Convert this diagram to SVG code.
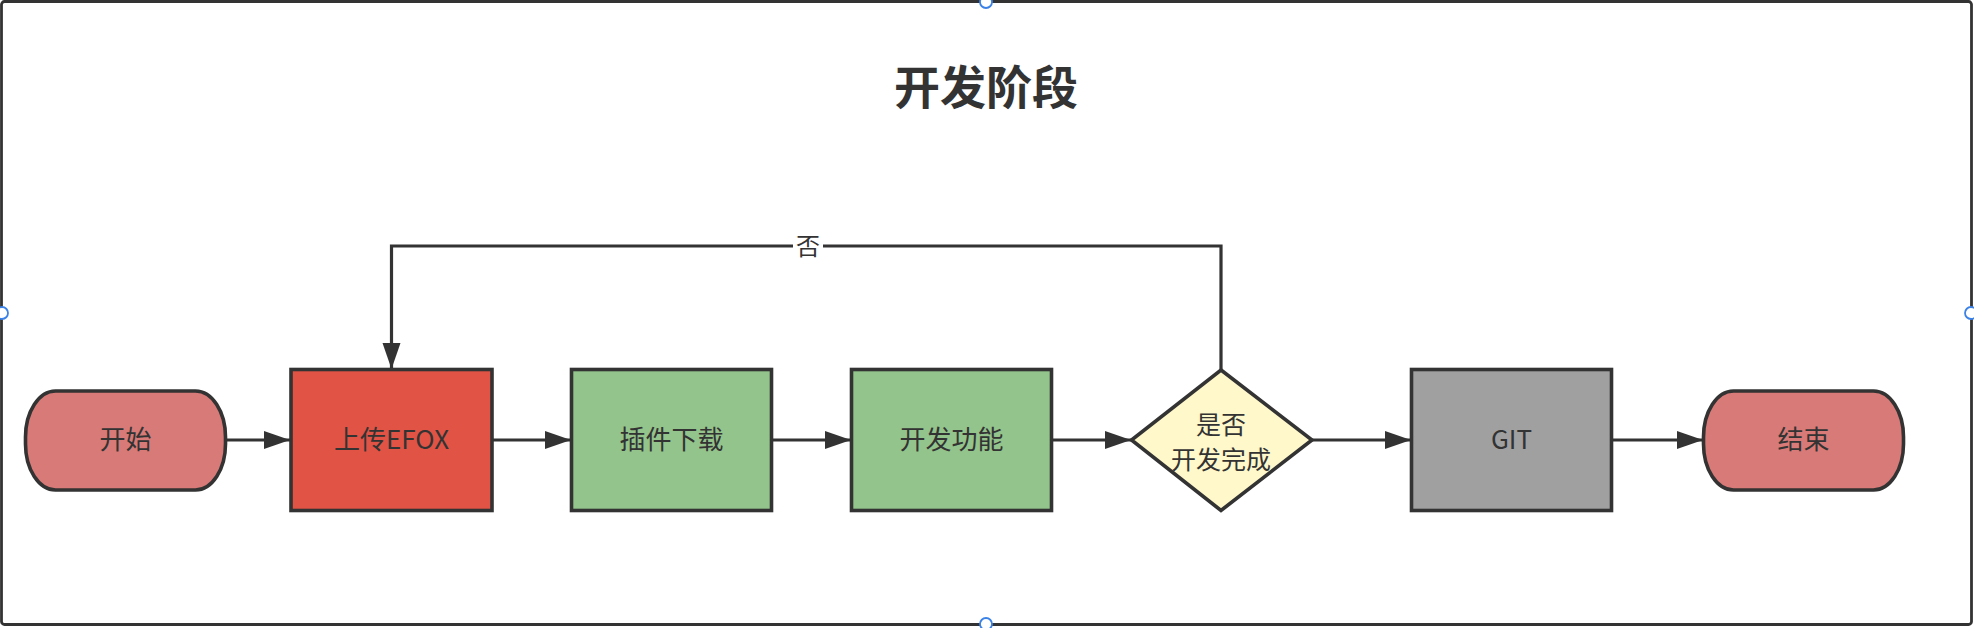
<svg xmlns="http://www.w3.org/2000/svg" width="1974" height="628" viewBox="0 0 1974 628">
<style>
.node{stroke:#333333;stroke-width:3.6;}
.lbl{font-family:"Noto Sans CJK SC","Noto Sans",sans-serif;font-size:26px;fill:#333333;text-anchor:middle;}
.conn{fill:none;stroke:#333333;stroke-width:3.2;}
.handle{fill:#ffffff;stroke:#3b82e8;stroke-width:1.8;}
</style>
<defs>
<marker id="arr" markerUnits="userSpaceOnUse" markerWidth="28" markerHeight="20" refX="26" refY="9" orient="auto">
<path d="M0,0 L26,9 L0,18 Z" fill="#333333"/>
</marker>
</defs>
<rect x="0" y="0" width="1974" height="628" fill="#ffffff"/>
<g id="frame">
<rect x="1.5" y="1.5" width="1970" height="623" rx="3" fill="#ffffff" stroke="#333333" stroke-width="2.8"/>
<circle class="handle" cx="986" cy="2" r="6"/>
<circle class="handle" cx="986" cy="624" r="6"/>
<circle class="handle" cx="2" cy="313" r="6"/>
<circle class="handle" cx="1971" cy="313" r="6"/>
</g>
<g id="title">
<text x="986" y="104" font-family="'Noto Sans CJK SC','Noto Sans',sans-serif" font-size="46" font-weight="bold" fill="#333333" text-anchor="middle">开发阶段</text>
</g>
<g id="connectors">
<line class="conn" x1="226" y1="440" x2="290" y2="440" marker-end="url(#arr)"/>
<line class="conn" x1="492" y1="440" x2="571" y2="440" marker-end="url(#arr)"/>
<line class="conn" x1="772" y1="440" x2="851" y2="440" marker-end="url(#arr)"/>
<line class="conn" x1="1051" y1="440" x2="1131" y2="440" marker-end="url(#arr)"/>
<line class="conn" x1="1312" y1="440" x2="1411" y2="440" marker-end="url(#arr)"/>
<line class="conn" x1="1612" y1="440" x2="1703" y2="440" marker-end="url(#arr)"/>
<polyline class="conn" points="1221,370 1221,246 391.5,246 391.5,369" marker-end="url(#arr)"/>
<rect x="793" y="232" width="30" height="30" fill="#ffffff"/>
<text class="lbl" x="808" y="255" style="font-size:24px">否</text>
</g>
<g id="start">
<rect class="node" x="25.5" y="391" width="200" height="99" rx="30" ry="46" fill="#d87a77"/>
<text class="lbl" x="125.5" y="449">开始</text>
</g>
<g id="upload">
<rect class="node" x="291" y="369.5" width="201" height="141" fill="#e15345"/>
<text class="lbl" x="391.5" y="449">上传EFOX</text>
</g>
<g id="plugin">
<rect class="node" x="571.5" y="369.5" width="200" height="141" fill="#93c48b"/>
<text class="lbl" x="671.5" y="449">插件下载</text>
</g>
<g id="develop">
<rect class="node" x="851.5" y="369.5" width="200" height="141" fill="#93c48b"/>
<text class="lbl" x="951.5" y="449">开发功能</text>
</g>
<g id="decision">
<polygon class="node" points="1221,370 1312,440 1221,510.5 1131.5,440" fill="#fff8cb"/>
<text class="lbl" x="1221" y="434" style="font-size:25px">是否</text>
<text class="lbl" x="1221" y="469" style="font-size:25px">开发完成</text>
</g>
<g id="git">
<rect class="node" x="1411.5" y="369.5" width="200" height="141" fill="#a0a0a0"/>
<text class="lbl" x="1511.5" y="449">GIT</text>
</g>
<g id="end">
<rect class="node" x="1703.5" y="391" width="200" height="99" rx="30" ry="46" fill="#d87a77"/>
<text class="lbl" x="1803.5" y="449">结束</text>
</g>
</svg>
